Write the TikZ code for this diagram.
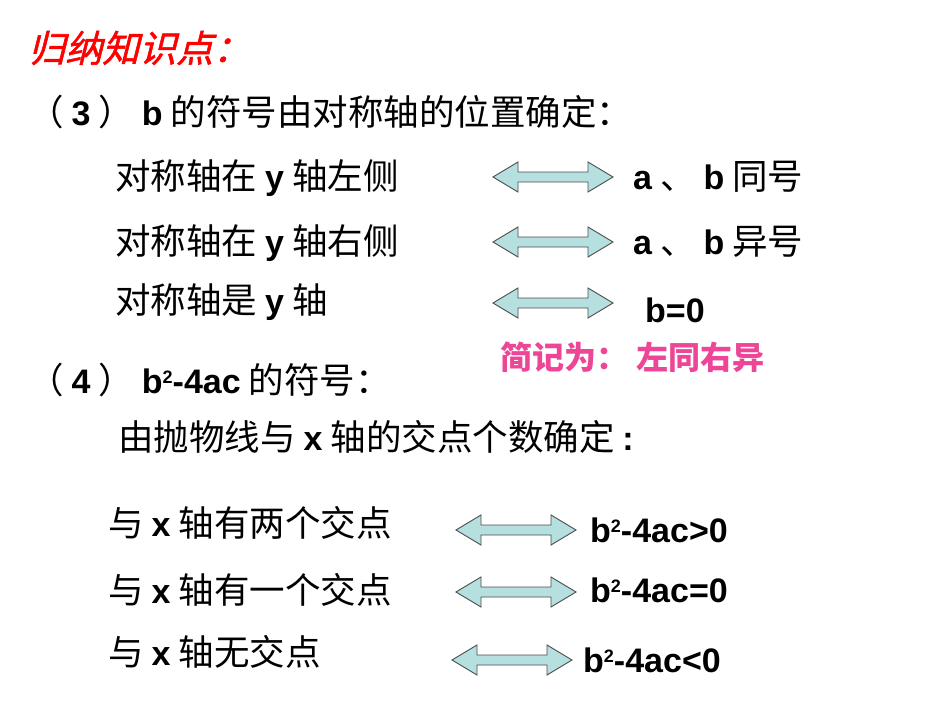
\documentclass[tikz,border=0pt]{standalone}
\usepackage{fontspec}
\setmainfont{Noto Sans CJK SC}
\newfontfamily\lat{Liberation Sans}[BoldFont={Liberation Sans Bold}]
\newfontfamily\cjkit{Noto Sans CJK SC}[FakeSlant=0.25,FakeBold=1.5]
\newfontfamily\cjkb{Noto Sans CJK SC Black}
\newcommand{\La}[1]{{\lat\bfseries\fontsize{34}{38}\selectfont #1}}
\newcommand{\sq}{\raisebox{0.55ex}{\fontsize{18}{18}\selectfont 2}}
\definecolor{arrfill}{RGB}{182,224,224}
\begin{document}
\begin{tikzpicture}[x=1pt,y=-1pt,
  txt/.style={anchor=west,inner sep=0pt,font=\fontsize{35.5}{40}\selectfont},
  darrow/.style={draw=black!70,fill=arrfill,line width=0.9pt}]
\useasboundingbox (0,0) rectangle (950,713);
\newcommand{\dar}[4]{% name, xleft, xright, y
  \path[darrow] (#2,#4) -- (#2+25,#4-15) -- (#2+25,#4-5) -- (#3-25,#4-5) -- (#3-25,#4-15) -- (#3,#4) -- (#3-25,#4+15) -- (#3-25,#4+5) -- (#2+25,#4+5) -- (#2+25,#4+15) -- cycle;
  \coordinate (#1) at ({(#2+#3)/2},#4);}
\node[txt,text=red,font=\cjkit\fontsize{37}{40}\selectfont] (title) at (28,48) {归纳知识点：};
\node[txt] (h3) at (28,112) {（ \La{3} ） \La{b} 的符号由对称轴的位置确定：};
\node[txt] (l1) at (115,178) {对称轴在 \La{y} 轴左侧};
\node[txt] (l2) at (115,243) {对称轴在 \La{y} 轴右侧};
\node[txt] (l3) at (115,302) {对称轴是 \La{y} 轴};
\dar{a1}{493}{613}{177}
\dar{a2}{493}{613}{242}
\dar{a3}{493}{613}{303}
\node[txt] (r1) at (633,177) {\La{a} 、 \La{b} 同号};
\node[txt] (r2) at (633,242) {\La{a} 、 \La{b} 异号};
\node[txt] (r3) at (645,310) {\La{b=0}};
\node[txt,text={rgb,255:red,238;green,70;blue,150},font=\cjkb\fontsize{32}{34}\selectfont] (memo) at (500,357) {简记为：\hspace{8pt}左同右异};
\node[txt] (h4) at (28,380) {（ \La{4} ） \La{b\sq-4ac} 的符号：};
\node[txt] (h4b) at (118,437) {由抛物线与 \La{x} 轴的交点个数确定 \La{:}};
\node[txt] (m1) at (108,523) {与 \La{x} 轴有两个交点};
\node[txt] (m2) at (108,590) {与 \La{x} 轴有一个交点};
\node[txt] (m3) at (108,652) {与 \La{x} 轴无交点};
\dar{b1}{456}{576}{530}
\dar{b2}{456}{576}{592}
\dar{b3}{452}{572}{660}
\node[txt] (n1) at (590,530) {\La{b\sq-4ac>0}};
\node[txt] (n2) at (590,590) {\La{b\sq-4ac=0}};
\node[txt] (n3) at (583,660) {\La{b\sq-4ac<0}};
\end{tikzpicture}
\end{document}
